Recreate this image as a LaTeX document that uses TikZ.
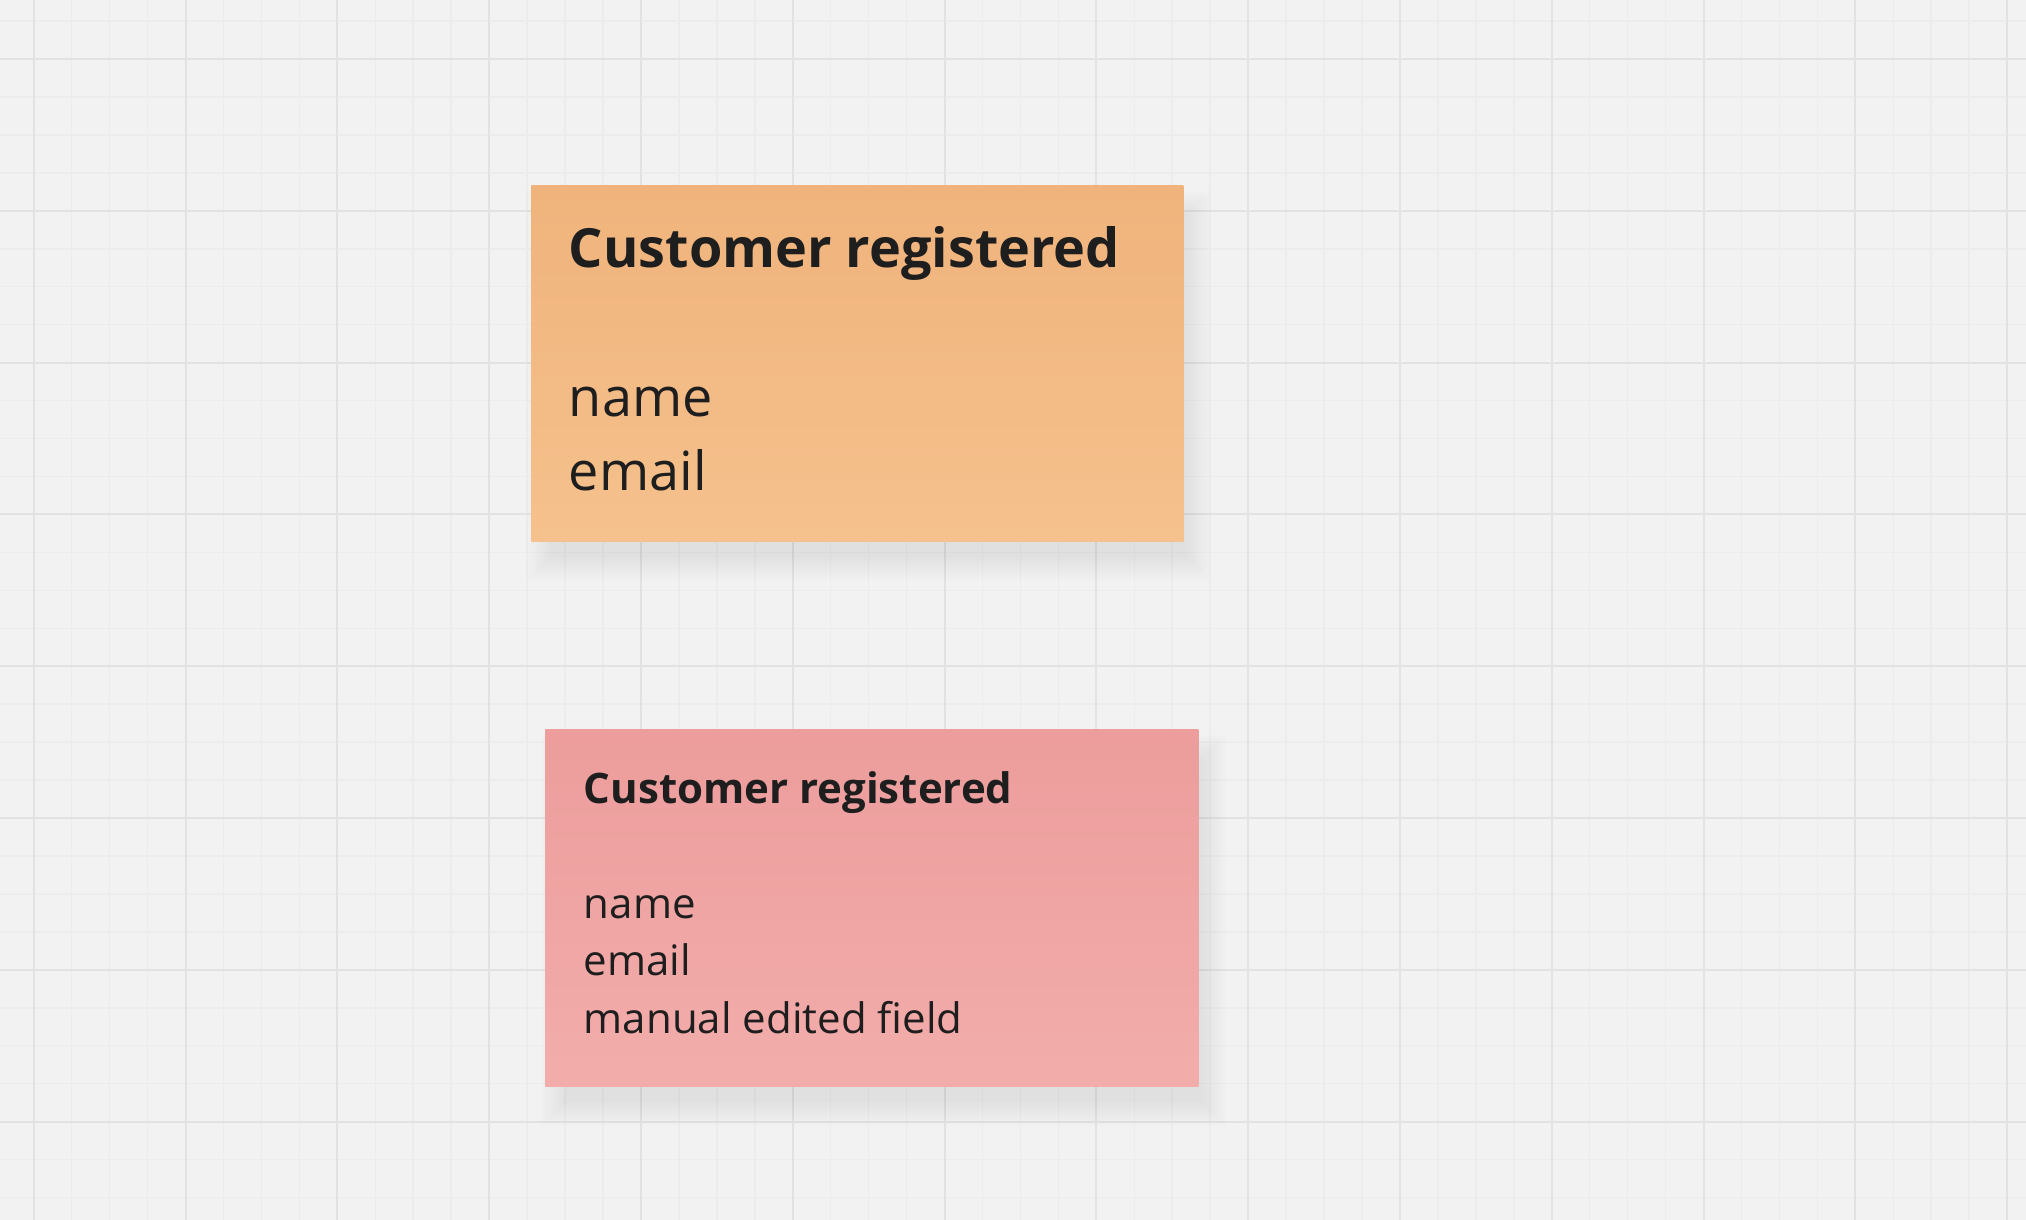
\documentclass[tikz,border=0pt]{standalone}
\usepackage{fontspec}
\setmainfont{Open Sans}
\definecolor{boardbg}{HTML}{F2F2F2}
\definecolor{gridminor}{HTML}{ECECEC}
\definecolor{gridmajor}{HTML}{E2E2E2}
\definecolor{orangetop}{HTML}{F0B37C}
\definecolor{orangebot}{HTML}{F5C18D}
\definecolor{pinktop}{HTML}{EC9D9C}
\definecolor{pinkbot}{HTML}{F2ADAB}
\definecolor{inktext}{HTML}{1E1E1E}
% soft shadow under a note: x0,y0,x1,y1
\newcommand{\noteshadow}[4]{%
  \foreach \r in {0,3,...,24}
    \fill[black, opacity=0.009] (#1+20-\r,#2+30-\r) rectangle (#3+4+\r,#4+16+\r);
}
\tikzset{
  note/.style={inner sep=0pt, anchor=north west},
  bigtext/.style={anchor=base west, inner sep=0pt, text=inktext,
    font=\fontsize{27}{37.5}\selectfont},
  smalltext/.style={anchor=base west, inner sep=0pt, text=inktext,
    font=\fontsize{21}{29}\selectfont},
}
\begin{document}
\begin{tikzpicture}[x=0.5pt, y=-0.5pt]
    \fill[boardbg] (0,0) rectangle (2026,1220);
    \useasboundingbox (0,0) rectangle (2026,1220);
    % board grid
    \foreach \i in {-1,...,52}
        \draw[gridminor, line width=0.75pt] (33.7+37.95*\i,0) -- (33.7+37.95*\i,1220);
    \foreach \i in {-1,...,30}
        \draw[gridminor, line width=0.75pt] (0,59+37.95*\i) -- (2026,59+37.95*\i);
    \foreach \j in {0,...,13}
        \draw[gridmajor, line width=1pt] (33.7+151.8*\j,0) -- (33.7+151.8*\j,1220);
    \foreach \j in {0,...,7}
        \draw[gridmajor, line width=1pt] (0,59+151.8*\j) -- (2026,59+151.8*\j);
    % orange note
    \noteshadow{531}{185}{1183}{541}
    \node[note, top color=orangetop, bottom color=orangebot,
        minimum width=326pt, minimum height=178pt] (orangeNote) at (531,185) {};
    \node[bigtext, font=\fontsize{27}{37.5}\selectfont\bfseries] (orangeTitle) at (568.5,267) {Customer registered};
    \node[bigtext] (orangeName) at (568.5,416) {name};
    \node[bigtext] (orangeEmail) at (568.5,490) {email};
    % pink note
    \noteshadow{545}{729}{1198}{1086}
    \node[note, top color=pinktop, bottom color=pinkbot,
        minimum width=326.5pt, minimum height=178.5pt] (pinkNote) at (545,729) {};
    \node[smalltext, font=\fontsize{21}{29}\selectfont\bfseries] (pinkTitle) at (583.5,803) {Customer registered};
    \node[smalltext] (pinkName) at (583.5,918) {name};
    \node[smalltext] (pinkEmail) at (583.5,975) {email};
    \node[smalltext] (pinkField) at (583.5,1033) {manual edited field};
\end{tikzpicture}
\end{document}
